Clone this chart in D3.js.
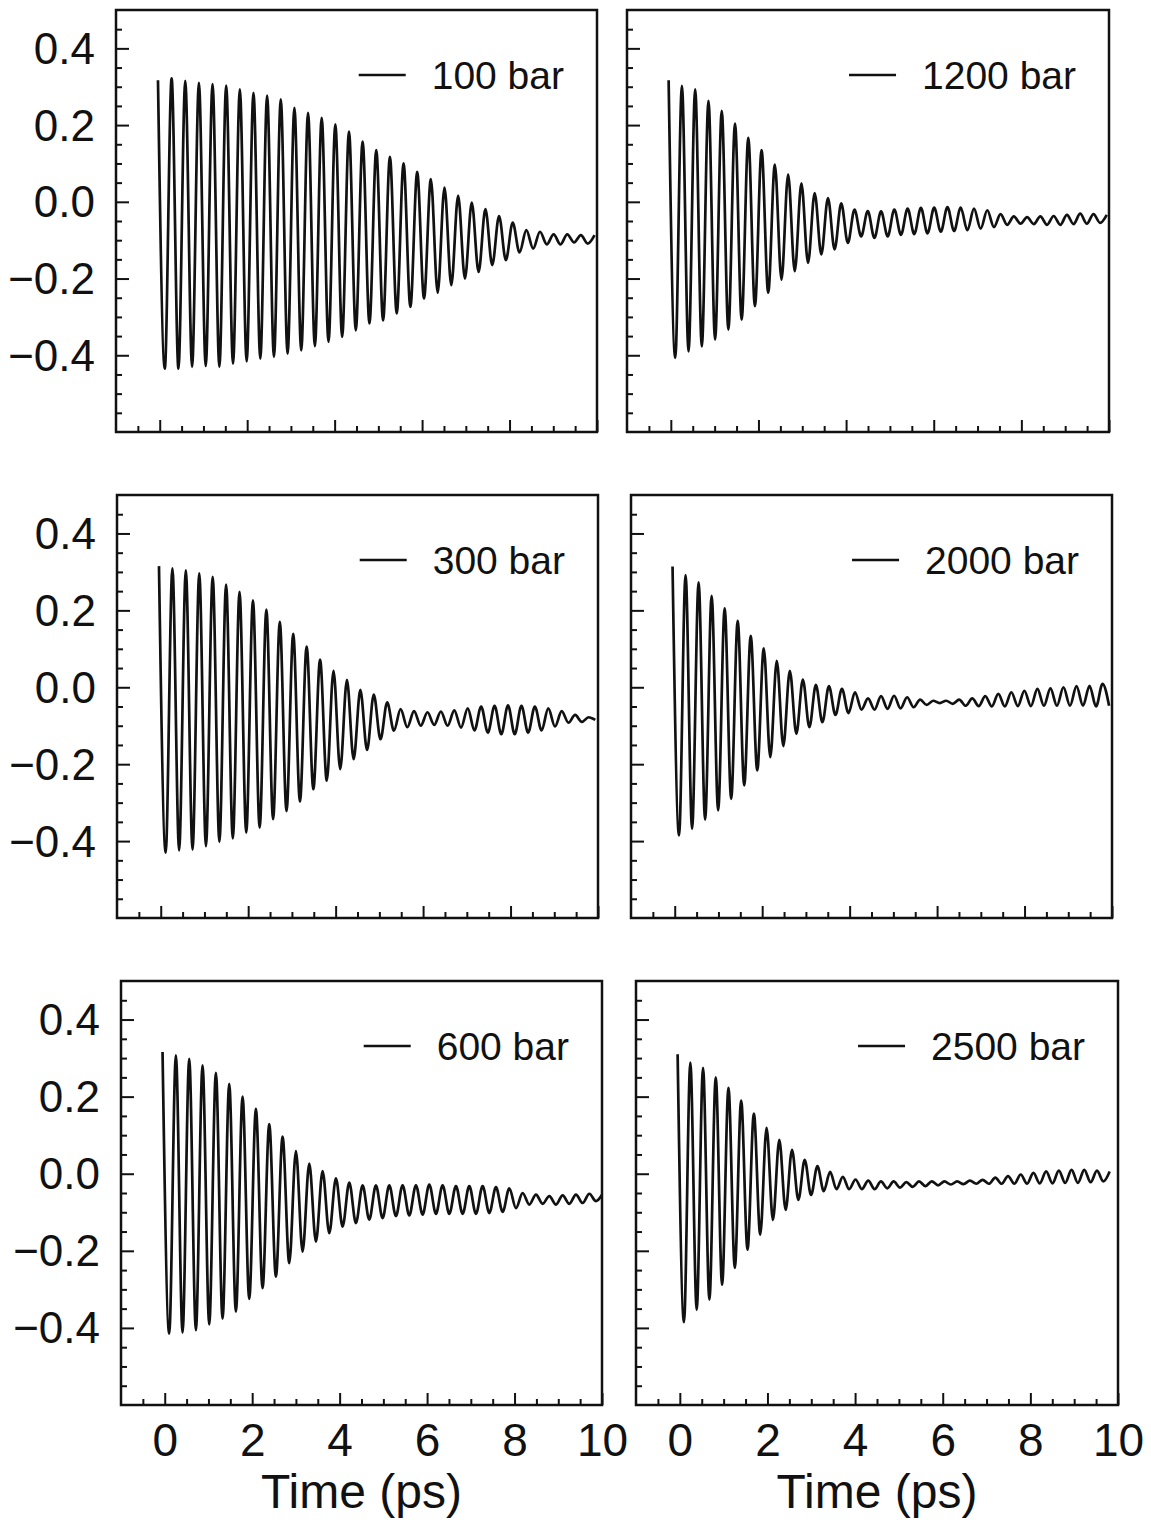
<!DOCTYPE html>
<html>
<head>
<meta charset="utf-8">
<script src="https://cdn.jsdelivr.net/npm/d3@7"></script>
<style>
  body { margin: 0; background: #fff; }
  svg { display: block; font-family: "Liberation Sans", Arial, Helvetica, sans-serif; }
</style>
</head>
<body>
<div id="chart"></div>
<script>
// Panel labels, in reading order (left column 100/300/600, right column 1200/2000/2500)
const pressures = ["100 bar", "1200 bar", "300 bar", "2000 bar", "600 bar", "2500 bar"];

// time of the first maximum and the oscillation period (ps)
const timeStart = [-0.04, -0.05, -0.04, -0.05, -0.05, -0.05];
const period = [0.312, 0.303, 0.307, 0.298, 0.305, 0.29];

// successive maxima / minima of each curve
const peaks100 = [0.317, 0.322, 0.315, 0.310, 0.307, 0.303, 0.293, 0.284, 0.277, 0.267, 0.245, 0.232, 0.219, 0.202, 0.183,
  0.157, 0.135, 0.117, 0.100, 0.078, 0.059, 0.037, 0.016, -0.002, -0.019, -0.037, -0.054, -0.074, -0.078, -0.085, -0.085, -0.087, -0.087];
const troughs100 = [-0.435, -0.435, -0.430, -0.428, -0.430, -0.422, -0.416, -0.409, -0.404, -0.396, -0.387, -0.376, -0.365, -0.352, -0.335,
  -0.317, -0.309, -0.291, -0.274, -0.252, -0.237, -0.217, -0.200, -0.183, -0.165, -0.152, -0.132, -0.122, -0.111, -0.111, -0.106, -0.109];

const peaks1200 = [0.317, 0.302, 0.293, 0.263, 0.237, 0.204, 0.167, 0.135, 0.097, 0.071, 0.048, 0.023, 0.010, -0.004, -0.020, -0.024,
  -0.025, -0.020, -0.018, -0.016, -0.015, -0.014, -0.015, -0.018, -0.022, -0.032, -0.038, -0.040, -0.038, -0.037, -0.034, -0.031, -0.032, -0.034];
const troughs1200 = [-0.407, -0.390, -0.377, -0.359, -0.333, -0.307, -0.272, -0.237, -0.203, -0.181, -0.159, -0.137, -0.124, -0.107, -0.090,
  -0.094, -0.090, -0.086, -0.084, -0.082, -0.078, -0.076, -0.074, -0.070, -0.066, -0.060, -0.057, -0.058, -0.060, -0.060, -0.058, -0.057, -0.055];

const peaks300 = [0.315, 0.309, 0.304, 0.296, 0.287, 0.267, 0.248, 0.226, 0.202, 0.170, 0.139, 0.106, 0.072, 0.043, 0.019,
  -0.007, -0.019, -0.039, -0.057, -0.062, -0.065, -0.063, -0.060, -0.055, -0.050, -0.048, -0.047, -0.048, -0.050, -0.055, -0.062, -0.072, -0.078];
const troughs300 = [-0.430, -0.424, -0.422, -0.413, -0.402, -0.393, -0.378, -0.365, -0.343, -0.322, -0.297, -0.265, -0.243, -0.213, -0.187,
  -0.163, -0.135, -0.113, -0.104, -0.100, -0.098, -0.100, -0.105, -0.112, -0.118, -0.122, -0.122, -0.118, -0.112, -0.102, -0.092, -0.090, -0.085];

const peaks2000 = [0.314, 0.292, 0.273, 0.238, 0.205, 0.173, 0.134, 0.101, 0.069, 0.043, 0.020, 0.006, 0.003, -0.004, -0.013, -0.029,
  -0.023, -0.022, -0.026, -0.032, -0.035, -0.035, -0.032, -0.029, -0.023, -0.017, -0.013, -0.009, -0.004, -0.003, 0.000, 0.003, 0.004, 0.009];
const troughs2000 = [-0.385, -0.368, -0.344, -0.320, -0.290, -0.255, -0.216, -0.182, -0.153, -0.121, -0.104, -0.091, -0.072, -0.067, -0.058,
  -0.058, -0.056, -0.055, -0.052, -0.046, -0.041, -0.043, -0.048, -0.049, -0.050, -0.050, -0.049, -0.049, -0.048, -0.048, -0.048, -0.048, -0.050, -0.048];

const peaks600 = [0.316, 0.307, 0.298, 0.281, 0.262, 0.233, 0.200, 0.168, 0.129, 0.096, 0.059, 0.026, 0.007, -0.012, -0.023, -0.030,
  -0.030, -0.030, -0.030, -0.030, -0.028, -0.030, -0.032, -0.032, -0.032, -0.035, -0.038, -0.050, -0.054, -0.058, -0.056, -0.054, -0.052, -0.052];
const troughs600 = [-0.415, -0.412, -0.406, -0.391, -0.376, -0.358, -0.325, -0.297, -0.267, -0.232, -0.202, -0.176, -0.154, -0.137, -0.128,
  -0.119, -0.115, -0.110, -0.108, -0.106, -0.104, -0.104, -0.104, -0.104, -0.102, -0.099, -0.089, -0.080, -0.078, -0.080, -0.078, -0.076, -0.071];

const peaks2500 = [0.310, 0.288, 0.275, 0.250, 0.223, 0.190, 0.156, 0.119, 0.088, 0.062, 0.036, 0.020, 0.005, -0.008, -0.015, -0.018,
  -0.020, -0.020, -0.022, -0.020, -0.020, -0.020, -0.020, -0.018, -0.016, -0.010, -0.006, -0.002, 0.002, 0.006, 0.008, 0.010, 0.010, 0.008, 0.006];
const troughs2500 = [-0.385, -0.353, -0.327, -0.288, -0.244, -0.197, -0.158, -0.120, -0.094, -0.068, -0.055, -0.045, -0.040, -0.040, -0.040,
  -0.040, -0.038, -0.036, -0.034, -0.032, -0.030, -0.028, -0.027, -0.026, -0.026, -0.026, -0.026, -0.026, -0.025, -0.025, -0.024, -0.024, -0.022, -0.020];

const peakSets = [peaks100, peaks1200, peaks300, peaks2000, peaks600, peaks2500];
const troughSets = [troughs100, troughs1200, troughs300, troughs2000, troughs600, troughs2500];

// axis ticks
const xMajor = [0, 2, 4, 6, 8, 10];
const xMinor = d3.range(-0.5, 10, 0.5).filter(v => v % 2 !== 0);
const yMajor = [-0.4, -0.2, 0.0, 0.2, 0.4];
const yMinor = d3.range(-11, 10).map(i => i * 0.05).filter(v => Math.abs(Math.round(v * 100) % 20) !== 0);

// panel boxes (the scan is slightly skewed, so each box is placed on its own)
const boxes = [
  { x: 116, y: 10, w: 481, h: 422 },
  { x: 627, y: 10, w: 482, h: 422 },
  { x: 117, y: 495, w: 481, h: 423 },
  { x: 631, y: 495, w: 481, h: 423 },
  { x: 121, y: 981, w: 481, h: 424 },
  { x: 636, y: 981, w: 482, h: 424 }
];

const svg = d3.select("#chart").append("svg")
  .attr("width", 1151)
  .attr("height", 1524);

svg.append("rect").attr("width", 1151).attr("height", 1524).attr("fill", "#fff");

// alternate maxima and minima, half a period apart
function extremaPoints(peaks, troughs, t0, per) {
  const pts = [];
  const n = peaks.length + troughs.length;
  for (let i = 0; i < n; i++) {
    const v = i % 2 === 0 ? peaks[i / 2] : troughs[(i - 1) / 2];
    if (v === undefined) break;
    pts.push({ t: t0 + i * per / 2, v: v });
  }
  return pts;
}

boxes.forEach((b, i) => {
  const col = i % 2;
  const row = Math.floor(i / 2);

  const x = d3.scaleLinear().domain([-1, 10]).range([0, b.w]);
  const y = d3.scaleLinear().domain([-0.6, 0.5]).range([b.h, 0]);

  const g = svg.append("g").attr("transform", `translate(${b.x},${b.y})`);

  g.append("clipPath").attr("id", "clip" + i)
    .append("rect").attr("width", b.w).attr("height", b.h);

  // curve
  const pts = extremaPoints(peakSets[i], troughSets[i], timeStart[i], period[i]);
  const line = d3.line()
    .x(d => x(d.t))
    .y(d => y(d.v))
    .curve(d3.curveMonotoneX);

  g.append("path")
    .datum(pts)
    .attr("clip-path", `url(#clip${i})`)
    .attr("fill", "none")
    .attr("stroke", "#111")
    .attr("stroke-width", 2.7)
    .attr("stroke-linejoin", "round")
    .attr("d", line);

  // inward ticks on left axis
  const yAxisMajor = d3.axisLeft(y).tickValues(yMajor).tickSize(-13).tickPadding(21)
    .tickFormat(col === 0 ? d3.format(".1f") : () => "");
  const yAxisMinor = d3.axisLeft(y).tickValues(yMinor).tickSize(-6).tickFormat(() => "");

  const ya = g.append("g").call(yAxisMajor);
  g.append("g").call(yAxisMinor).select(".domain").remove();
  ya.select(".domain").remove();
  ya.selectAll("text")
    .attr("font-size", 44)
    .attr("font-family", "Liberation Sans, Arial, sans-serif")
    .attr("fill", "#111")
    .attr("dy", "0.34em");

  // inward ticks on bottom axis
  const xAxisMajor = d3.axisBottom(x).tickValues(xMajor).tickSize(-12).tickPadding(18)
    .tickFormat(row === 2 ? d3.format("d") : () => "");
  const xAxisMinor = d3.axisBottom(x).tickValues(xMinor).tickSize(-6).tickFormat(() => "");

  const xa = g.append("g").attr("transform", `translate(0,${b.h})`).call(xAxisMajor);
  g.append("g").attr("transform", `translate(0,${b.h})`).call(xAxisMinor).select(".domain").remove();
  xa.select(".domain").remove();
  xa.selectAll("text")
    .attr("font-size", 46)
    .attr("font-family", "Liberation Sans, Arial, sans-serif")
    .attr("fill", "#111");

  g.selectAll(".tick line").attr("stroke", "#111").attr("stroke-width", 2);

  // frame
  g.append("rect")
    .attr("width", b.w)
    .attr("height", b.h)
    .attr("fill", "none")
    .attr("stroke", "#111")
    .attr("stroke-width", 2.5);

  // legend
  const label = g.append("text")
    .attr("x", b.w - 33)
    .attr("y", 65)
    .attr("dy", "0.36em")
    .attr("text-anchor", "end")
    .attr("font-size", 39)
    .attr("fill", "#111")
    .text(pressures[i]);
  const textStart = b.w - 33 - label.node().getComputedTextLength();
  g.append("line")
    .attr("x1", textStart - 26 - 47)
    .attr("x2", textStart - 26)
    .attr("y1", 65)
    .attr("y2", 65)
    .attr("stroke", "#111")
    .attr("stroke-width", 2.4);

  // axis title on bottom row
  if (row === 2) {
    g.append("text")
      .attr("x", b.w / 2)
      .attr("y", b.h + 103)
      .attr("text-anchor", "middle")
      .attr("font-size", 48)
      .attr("fill", "#111")
      .text("Time (ps)");
  }
});
</script>
</body>
</html>
